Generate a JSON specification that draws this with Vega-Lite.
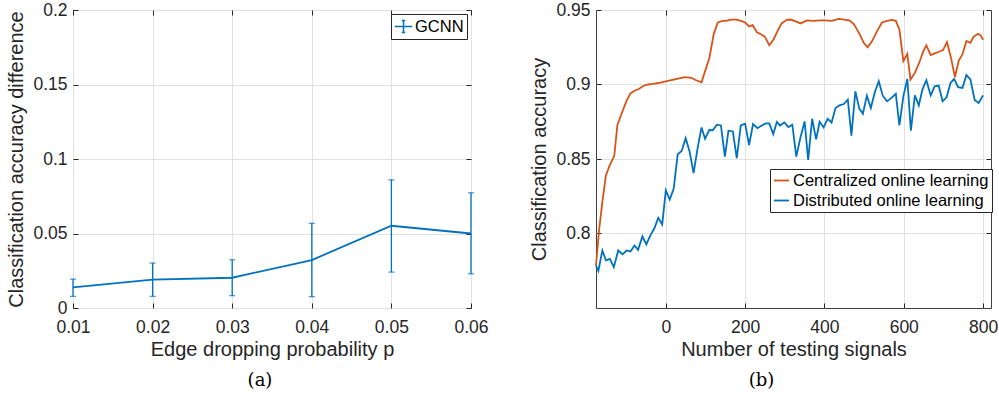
{
  "$schema": "https://vega.github.io/schema/vega-lite/v6.json",
  "padding": {"left": 6, "top": 0, "right": 0, "bottom": 0},
  "background": "white",
  "spacing": 125,
  "bounds": "flush",
  "resolve": {"scale": {"color": "independent"}, "legend": {"color": "independent"}},
  "datasets": {
    "gcnn": [
      {"p": 0.01, "diff": 0.0138, "lo": 0.0078, "hi": 0.0194},
      {"p": 0.02, "diff": 0.0190, "lo": 0.0078, "hi": 0.0302},
      {"p": 0.03, "diff": 0.0203, "lo": 0.0083, "hi": 0.0324},
      {"p": 0.04, "diff": 0.0322, "lo": 0.0076, "hi": 0.0568},
      {"p": 0.05, "diff": 0.0552, "lo": 0.0241, "hi": 0.0860},
      {"p": 0.06, "diff": 0.0500, "lo": 0.0230, "hi": 0.0773}
    ],
    "online": [
      {"method": "Centralized online learning", "n": -176, "acc": 0.7785},
      {"method": "Centralized online learning", "n": -168, "acc": 0.803},
      {"method": "Centralized online learning", "n": -160, "acc": 0.821},
      {"method": "Centralized online learning", "n": -151, "acc": 0.839},
      {"method": "Centralized online learning", "n": -141, "acc": 0.846},
      {"method": "Centralized online learning", "n": -130, "acc": 0.852},
      {"method": "Centralized online learning", "n": -122, "acc": 0.873},
      {"method": "Centralized online learning", "n": -112, "acc": 0.880},
      {"method": "Centralized online learning", "n": -99, "acc": 0.889},
      {"method": "Centralized online learning", "n": -89, "acc": 0.894},
      {"method": "Centralized online learning", "n": -78, "acc": 0.896},
      {"method": "Centralized online learning", "n": -68, "acc": 0.897},
      {"method": "Centralized online learning", "n": -57, "acc": 0.899},
      {"method": "Centralized online learning", "n": -45, "acc": 0.900},
      {"method": "Centralized online learning", "n": -32, "acc": 0.9004},
      {"method": "Centralized online learning", "n": -19, "acc": 0.901},
      {"method": "Centralized online learning", "n": -3, "acc": 0.902},
      {"method": "Centralized online learning", "n": 14, "acc": 0.903},
      {"method": "Centralized online learning", "n": 31, "acc": 0.904},
      {"method": "Centralized online learning", "n": 48, "acc": 0.905},
      {"method": "Centralized online learning", "n": 64, "acc": 0.9045},
      {"method": "Centralized online learning", "n": 75, "acc": 0.903},
      {"method": "Centralized online learning", "n": 90, "acc": 0.9015},
      {"method": "Centralized online learning", "n": 110, "acc": 0.918},
      {"method": "Centralized online learning", "n": 121, "acc": 0.934},
      {"method": "Centralized online learning", "n": 131, "acc": 0.9416},
      {"method": "Centralized online learning", "n": 143, "acc": 0.9427},
      {"method": "Centralized online learning", "n": 152, "acc": 0.9427},
      {"method": "Centralized online learning", "n": 164, "acc": 0.9436},
      {"method": "Centralized online learning", "n": 177, "acc": 0.9436},
      {"method": "Centralized online learning", "n": 190, "acc": 0.9427},
      {"method": "Centralized online learning", "n": 200, "acc": 0.9416},
      {"method": "Centralized online learning", "n": 210, "acc": 0.939},
      {"method": "Centralized online learning", "n": 219, "acc": 0.9398},
      {"method": "Centralized online learning", "n": 230, "acc": 0.935},
      {"method": "Centralized online learning", "n": 240, "acc": 0.9337},
      {"method": "Centralized online learning", "n": 250, "acc": 0.932},
      {"method": "Centralized online learning", "n": 261, "acc": 0.9263},
      {"method": "Centralized online learning", "n": 272, "acc": 0.9304},
      {"method": "Centralized online learning", "n": 282, "acc": 0.936},
      {"method": "Centralized online learning", "n": 292, "acc": 0.941},
      {"method": "Centralized online learning", "n": 305, "acc": 0.9434},
      {"method": "Centralized online learning", "n": 315, "acc": 0.9436},
      {"method": "Centralized online learning", "n": 326, "acc": 0.9425},
      {"method": "Centralized online learning", "n": 340, "acc": 0.941},
      {"method": "Centralized online learning", "n": 356, "acc": 0.943},
      {"method": "Centralized online learning", "n": 373, "acc": 0.9427},
      {"method": "Centralized online learning", "n": 390, "acc": 0.943},
      {"method": "Centralized online learning", "n": 402, "acc": 0.943},
      {"method": "Centralized online learning", "n": 419, "acc": 0.9427},
      {"method": "Centralized online learning", "n": 436, "acc": 0.944},
      {"method": "Centralized online learning", "n": 449, "acc": 0.9436},
      {"method": "Centralized online learning", "n": 463, "acc": 0.943},
      {"method": "Centralized online learning", "n": 474, "acc": 0.9405},
      {"method": "Centralized online learning", "n": 482, "acc": 0.937},
      {"method": "Centralized online learning", "n": 491, "acc": 0.9326},
      {"method": "Centralized online learning", "n": 499, "acc": 0.928},
      {"method": "Centralized online learning", "n": 509, "acc": 0.925},
      {"method": "Centralized online learning", "n": 520, "acc": 0.929},
      {"method": "Centralized online learning", "n": 533, "acc": 0.936},
      {"method": "Centralized online learning", "n": 545, "acc": 0.9416},
      {"method": "Centralized online learning", "n": 558, "acc": 0.9427},
      {"method": "Centralized online learning", "n": 570, "acc": 0.9434},
      {"method": "Centralized online learning", "n": 580, "acc": 0.9427},
      {"method": "Centralized online learning", "n": 589, "acc": 0.937},
      {"method": "Centralized online learning", "n": 599, "acc": 0.9157},
      {"method": "Centralized online learning", "n": 609, "acc": 0.9206},
      {"method": "Centralized online learning", "n": 617, "acc": 0.9033},
      {"method": "Centralized online learning", "n": 628, "acc": 0.9078},
      {"method": "Centralized online learning", "n": 639, "acc": 0.9146},
      {"method": "Centralized online learning", "n": 649, "acc": 0.922},
      {"method": "Centralized online learning", "n": 657, "acc": 0.9263},
      {"method": "Centralized online learning", "n": 668, "acc": 0.9197},
      {"method": "Centralized online learning", "n": 678, "acc": 0.9209},
      {"method": "Centralized online learning", "n": 689, "acc": 0.922},
      {"method": "Centralized online learning", "n": 699, "acc": 0.9231},
      {"method": "Centralized online learning", "n": 709, "acc": 0.9285},
      {"method": "Centralized online learning", "n": 719, "acc": 0.918},
      {"method": "Centralized online learning", "n": 729, "acc": 0.905},
      {"method": "Centralized online learning", "n": 739, "acc": 0.9162},
      {"method": "Centralized online learning", "n": 748, "acc": 0.9202},
      {"method": "Centralized online learning", "n": 758, "acc": 0.9292},
      {"method": "Centralized online learning", "n": 768, "acc": 0.928},
      {"method": "Centralized online learning", "n": 776, "acc": 0.932},
      {"method": "Centralized online learning", "n": 787, "acc": 0.934},
      {"method": "Centralized online learning", "n": 794, "acc": 0.933},
      {"method": "Centralized online learning", "n": 800, "acc": 0.930},
      {"method": "Distributed online learning", "n": -176, "acc": 0.7785},
      {"method": "Distributed online learning", "n": -170, "acc": 0.775},
      {"method": "Distributed online learning", "n": -160, "acc": 0.7886},
      {"method": "Distributed online learning", "n": -151, "acc": 0.782},
      {"method": "Distributed online learning", "n": -141, "acc": 0.783},
      {"method": "Distributed online learning", "n": -131, "acc": 0.7774},
      {"method": "Distributed online learning", "n": -120, "acc": 0.7886},
      {"method": "Distributed online learning", "n": -109, "acc": 0.786},
      {"method": "Distributed online learning", "n": -99, "acc": 0.7886},
      {"method": "Distributed online learning", "n": -89, "acc": 0.788},
      {"method": "Distributed online learning", "n": -79, "acc": 0.792},
      {"method": "Distributed online learning", "n": -70, "acc": 0.789},
      {"method": "Distributed online learning", "n": -59, "acc": 0.798},
      {"method": "Distributed online learning", "n": -49, "acc": 0.7927},
      {"method": "Distributed online learning", "n": -39, "acc": 0.7988},
      {"method": "Distributed online learning", "n": -29, "acc": 0.8033},
      {"method": "Distributed online learning", "n": -19, "acc": 0.8105},
      {"method": "Distributed online learning", "n": -9, "acc": 0.806},
      {"method": "Distributed online learning", "n": 0, "acc": 0.829},
      {"method": "Distributed online learning", "n": 10, "acc": 0.8228},
      {"method": "Distributed online learning", "n": 20, "acc": 0.8302},
      {"method": "Distributed online learning", "n": 30, "acc": 0.8532},
      {"method": "Distributed online learning", "n": 40, "acc": 0.8554},
      {"method": "Distributed online learning", "n": 50, "acc": 0.864},
      {"method": "Distributed online learning", "n": 60, "acc": 0.855},
      {"method": "Distributed online learning", "n": 70, "acc": 0.8405},
      {"method": "Distributed online learning", "n": 80, "acc": 0.857},
      {"method": "Distributed online learning", "n": 90, "acc": 0.8712},
      {"method": "Distributed online learning", "n": 99, "acc": 0.8636},
      {"method": "Distributed online learning", "n": 110, "acc": 0.8696},
      {"method": "Distributed online learning", "n": 118, "acc": 0.8692},
      {"method": "Distributed online learning", "n": 129, "acc": 0.873},
      {"method": "Distributed online learning", "n": 139, "acc": 0.8725},
      {"method": "Distributed online learning", "n": 149, "acc": 0.8516},
      {"method": "Distributed online learning", "n": 158, "acc": 0.869},
      {"method": "Distributed online learning", "n": 169, "acc": 0.8685},
      {"method": "Distributed online learning", "n": 179, "acc": 0.8505},
      {"method": "Distributed online learning", "n": 189, "acc": 0.8725},
      {"method": "Distributed online learning", "n": 200, "acc": 0.8737},
      {"method": "Distributed online learning", "n": 210, "acc": 0.8594},
      {"method": "Distributed online learning", "n": 220, "acc": 0.8734},
      {"method": "Distributed online learning", "n": 231, "acc": 0.8707},
      {"method": "Distributed online learning", "n": 242, "acc": 0.8725},
      {"method": "Distributed online learning", "n": 252, "acc": 0.8739},
      {"method": "Distributed online learning", "n": 261, "acc": 0.8739},
      {"method": "Distributed online learning", "n": 271, "acc": 0.8667},
      {"method": "Distributed online learning", "n": 280, "acc": 0.8748},
      {"method": "Distributed online learning", "n": 288, "acc": 0.8725},
      {"method": "Distributed online learning", "n": 299, "acc": 0.8745},
      {"method": "Distributed online learning", "n": 309, "acc": 0.8714},
      {"method": "Distributed online learning", "n": 319, "acc": 0.873},
      {"method": "Distributed online learning", "n": 329, "acc": 0.8516},
      {"method": "Distributed online learning", "n": 340, "acc": 0.865},
      {"method": "Distributed online learning", "n": 350, "acc": 0.8752},
      {"method": "Distributed online learning", "n": 359, "acc": 0.8494},
      {"method": "Distributed online learning", "n": 369, "acc": 0.877},
      {"method": "Distributed online learning", "n": 379, "acc": 0.8632},
      {"method": "Distributed online learning", "n": 388, "acc": 0.875},
      {"method": "Distributed online learning", "n": 398, "acc": 0.8712},
      {"method": "Distributed online learning", "n": 408, "acc": 0.877},
      {"method": "Distributed online learning", "n": 418, "acc": 0.8745},
      {"method": "Distributed online learning", "n": 428, "acc": 0.8842},
      {"method": "Distributed online learning", "n": 438, "acc": 0.886},
      {"method": "Distributed online learning", "n": 449, "acc": 0.8869},
      {"method": "Distributed online learning", "n": 459, "acc": 0.8898},
      {"method": "Distributed online learning", "n": 468, "acc": 0.8657},
      {"method": "Distributed online learning", "n": 478, "acc": 0.8954},
      {"method": "Distributed online learning", "n": 488, "acc": 0.8838},
      {"method": "Distributed online learning", "n": 497, "acc": 0.8804},
      {"method": "Distributed online learning", "n": 507, "acc": 0.8925},
      {"method": "Distributed online learning", "n": 517, "acc": 0.8842},
      {"method": "Distributed online learning", "n": 527, "acc": 0.8948},
      {"method": "Distributed online learning", "n": 537, "acc": 0.9022},
      {"method": "Distributed online learning", "n": 547, "acc": 0.8925},
      {"method": "Distributed online learning", "n": 558, "acc": 0.8887},
      {"method": "Distributed online learning", "n": 569, "acc": 0.891},
      {"method": "Distributed online learning", "n": 580, "acc": 0.8937},
      {"method": "Distributed online learning", "n": 589, "acc": 0.8725},
      {"method": "Distributed online learning", "n": 599, "acc": 0.892},
      {"method": "Distributed online learning", "n": 609, "acc": 0.9038},
      {"method": "Distributed online learning", "n": 618, "acc": 0.869},
      {"method": "Distributed online learning", "n": 628, "acc": 0.8927},
      {"method": "Distributed online learning", "n": 638, "acc": 0.886},
      {"method": "Distributed online learning", "n": 647, "acc": 0.8966},
      {"method": "Distributed online learning", "n": 657, "acc": 0.9029},
      {"method": "Distributed online learning", "n": 668, "acc": 0.8927},
      {"method": "Distributed online learning", "n": 678, "acc": 0.8988},
      {"method": "Distributed online learning", "n": 688, "acc": 0.8993},
      {"method": "Distributed online learning", "n": 698, "acc": 0.8887},
      {"method": "Distributed online learning", "n": 708, "acc": 0.8914},
      {"method": "Distributed online learning", "n": 718, "acc": 0.901},
      {"method": "Distributed online learning", "n": 727, "acc": 0.9038},
      {"method": "Distributed online learning", "n": 737, "acc": 0.8982},
      {"method": "Distributed online learning", "n": 748, "acc": 0.8977},
      {"method": "Distributed online learning", "n": 758, "acc": 0.9063},
      {"method": "Distributed online learning", "n": 768, "acc": 0.9034},
      {"method": "Distributed online learning", "n": 779, "acc": 0.8895},
      {"method": "Distributed online learning", "n": 789, "acc": 0.8876},
      {"method": "Distributed online learning", "n": 800, "acc": 0.8927}
    ]
  },
  "hconcat": [
    {
      "width": 398,
      "height": 298,
      "data": {"name": "gcnn"},
      "title": {"text": "(a)", "orient": "bottom", "frame": "group", "anchor": "middle", "dx": -12, "font": "DejaVu Serif", "fontSize": 18, "fontWeight": "normal", "color": "black", "offset": 12},
      "resolve": {"axis": {"x": "independent", "y": "independent"}},
      "layer": [
        {
          "mark": {"type": "line", "strokeWidth": 1.8},
          "encoding": {
            "x": {"field": "p", "type": "quantitative", "scale": {"domain": [0.01, 0.06], "nice": false, "zero": false},
                  "axis": {"orient": "bottom", "title": "Edge dropping probability p", "values": [0.01, 0.02, 0.03, 0.04, 0.05, 0.06], "format": "~g"}},
            "y": {"field": "diff", "type": "quantitative", "scale": {"domain": [0, 0.2], "nice": false},
                  "axis": {"orient": "left", "title": "Classification accuracy difference", "values": [0, 0.05, 0.1, 0.15, 0.2], "format": "~g"}},
            "color": {"datum": "GCNN", "type": "nominal", "scale": {"domain": ["GCNN"], "range": ["#0072BD"]},
                      "legend": {"title": null, "orient": "top-right", "offset": 4, "symbolType": "M-1,0H1M0,-0.7V0.7M-0.2,-0.7H0.2M-0.2,0.7H0.2", "symbolSize": 300, "symbolStrokeWidth": 1.5, "symbolFillColor": "transparent", "strokeColor": "#262626", "fillColor": "white", "padding": 3, "labelFontSize": 16.5, "labelFont": "Liberation Sans", "labelColor": "black", "labelOffset": 2, "labelLimit": 300}}
          }
        },
        {
          "mark": {"type": "rule", "color": "#0072BD", "strokeWidth": 1.3},
          "encoding": {
            "x": {"field": "p", "type": "quantitative", "axis": {"orient": "top", "labels": false, "title": null, "grid": false, "values": [0.01, 0.02, 0.03, 0.04, 0.05, 0.06]}},
            "y": {"field": "lo", "type": "quantitative", "axis": {"orient": "right", "labels": false, "title": null, "grid": false, "values": [0, 0.05, 0.1, 0.15, 0.2]}},
            "y2": {"field": "hi"}
          }
        },
        {
          "mark": {"type": "tick", "orient": "horizontal", "color": "#0072BD", "size": 6, "thickness": 1.3},
          "encoding": {
            "x": {"field": "p", "type": "quantitative", "axis": null},
            "y": {"field": "lo", "type": "quantitative", "axis": null}
          }
        },
        {
          "mark": {"type": "tick", "orient": "horizontal", "color": "#0072BD", "size": 6, "thickness": 1.3},
          "encoding": {
            "x": {"field": "p", "type": "quantitative", "axis": null},
            "y": {"field": "hi", "type": "quantitative", "axis": null}
          }
        }
      ]
    },
    {
      "width": 395,
      "height": 298,
      "data": {"name": "online"},
      "title": {"text": "(b)", "orient": "bottom", "frame": "group", "anchor": "middle", "dx": -32, "font": "DejaVu Serif", "fontSize": 18, "fontWeight": "normal", "color": "black", "offset": 12},
      "resolve": {"axis": {"x": "independent", "y": "independent"}},
      "layer": [
        {
          "mark": {"type": "line", "strokeWidth": 1.8},
          "encoding": {
            "x": {"field": "n", "type": "quantitative", "scale": {"domain": [-176, 820], "nice": false, "zero": false},
                  "axis": {"orient": "bottom", "title": "Number of testing signals", "values": [0, 200, 400, 600, 800]}},
            "y": {"field": "acc", "type": "quantitative", "scale": {"domain": [0.75, 0.95], "nice": false, "zero": false},
                  "axis": {"orient": "left", "title": "Classification accuracy", "values": [0.8, 0.85, 0.9, 0.95], "format": "~g"}},
            "color": {"field": "method", "type": "nominal", "scale": {"domain": ["Centralized online learning", "Distributed online learning"], "range": ["#D95319", "#0072BD"]},
                      "legend": {"title": null, "orient": "none", "legendX": 174, "legendY": 159, "symbolType": "stroke", "symbolSize": 225, "symbolStrokeWidth": 1.8, "strokeColor": "#262626", "fillColor": "white", "padding": 3, "rowPadding": 3, "labelFontSize": 16.5, "labelFont": "Liberation Sans", "labelColor": "black", "labelOffset": 3, "labelLimit": 400}}
          }
        },
        {
          "mark": {"type": "rule", "opacity": 0},
          "encoding": {
            "x": {"field": "n", "type": "quantitative", "axis": {"orient": "top", "labels": false, "title": null, "grid": false, "values": [0, 200, 400, 600, 800]}},
            "y": {"field": "acc", "type": "quantitative", "axis": {"orient": "right", "labels": false, "title": null, "grid": false, "values": [0.8, 0.85, 0.9, 0.95]}}
          }
        }
      ]
    }
  ],
  "config": {
    "font": "Liberation Sans",
    "view": {"stroke": "#404040", "strokeWidth": 1},
    "axis": {
      "domain": false,
      "tickSize": -5,
      "tickColor": "#262626",
      "tickWidth": 1,
      "labelFlush": false,
      "labelFont": "Liberation Sans",
      "labelFontSize": 17.5,
      "labelColor": "#262626",
      "titleFont": "Liberation Sans",
      "titleFontSize": 20,
      "titleFontWeight": "normal",
      "titleColor": "#262626",
      "gridColor": "#e2e2e2",
      "gridWidth": 1
    },
    "axisX": {"titlePadding": 4, "labelPadding": 15},
    "axisY": {"titlePadding": 6, "labelPadding": 11}
  }
}
